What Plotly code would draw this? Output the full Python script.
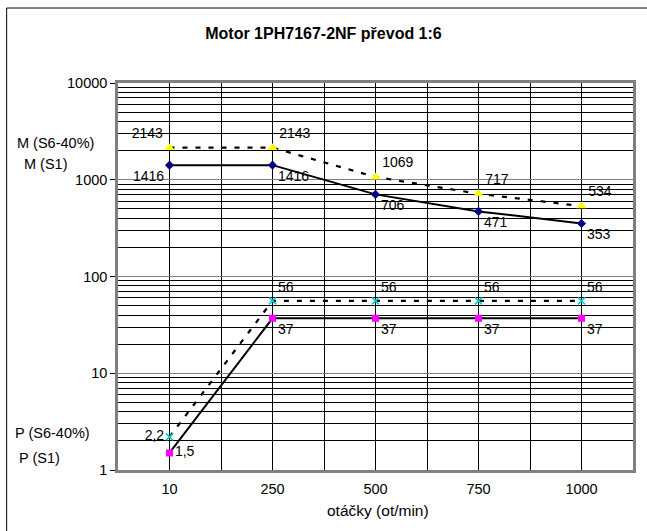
import plotly.graph_objects as go

categories = ["10", "250", "500", "750", "1000"]
m_s1 = [1416, 1416, 706, 471, 353]
m_s6 = [2143, 2143, 1069, 717, 534]
p_s1 = [1.5, 37, 37, 37, 37]
p_s6 = [2.2, 56, 56, 56, 56]
m_s1_text = ["1416", "1416", "706", "471", "353"]
m_s6_text = ["2143", "2143", "1069", "717", "534"]
p_s1_text = ["1,5", "37", "37", "37", "37"]
p_s6_text = ["2,2", "56", "56", "56", "56"]
y_ticks = [1, 10, 100, 1000, 10000]

x = list(range(len(categories)))
FONT = "Liberation Sans, Arial, sans-serif"
FS = 14
lab_font = dict(family=FONT, size=FS, color="black")

fig = go.Figure()

fig.add_trace(go.Scatter(
    x=x, y=m_s6, mode="lines+markers+text", text=m_s6_text,
    textposition=["top left", "top right", "top right", "top right", "top right"],
    textfont=lab_font,
    line=dict(color="black", width=2.2, dash="5px,8px"),
    marker=dict(symbol="triangle-up", size=9, color="#FFFF00"),
))
fig.add_trace(go.Scatter(
    x=x, y=m_s1, mode="lines+markers+text", text=m_s1_text,
    textposition=["bottom left", "bottom right", "bottom right", "bottom right", "bottom right"],
    textfont=lab_font,
    line=dict(color="black", width=2),
    marker=dict(symbol="diamond", size=7, color="#000080"),
))
fig.add_trace(go.Scatter(
    x=x, y=p_s6, mode="lines+markers+text", text=p_s6_text,
    textposition=["middle left", "top right", "top right", "top right", "top right"],
    textfont=lab_font,
    line=dict(color="black", width=2.2, dash="5px,8px"),
    marker=dict(symbol="x-thin", size=7, color="#00FFFF", line=dict(color="#00CCCC", width=1.5)),
))
fig.add_trace(go.Scatter(
    x=x, y=p_s1, mode="lines+markers+text", text=p_s1_text,
    textposition=["middle right", "bottom right", "bottom right", "bottom right", "bottom right"],
    textfont=lab_font,
    line=dict(color="black", width=2),
    marker=dict(symbol="square", size=7, color="#FF00FF"),
))

minor_y = [m * 10 ** d for d in range(4) for m in range(2, 10)]

fig.update_layout(
    width=647, height=531,
    margin=dict(l=118, r=11, t=83, b=61),
    paper_bgcolor="white", plot_bgcolor="white",
    showlegend=False,
    font=dict(family=FONT, size=FS, color="black"),
    title=dict(text="<b>Motor 1PH7167-2NF převod 1:6</b>", x=0.5, xanchor="center",
               y=1 - 33 / 531, yanchor="middle", font=dict(family=FONT, size=16)),
    xaxis=dict(
        range=[-0.5, 4.5], tickvals=x, ticktext=categories,
        showgrid=True, gridcolor="black", gridwidth=1,
        minor=dict(tickvals=[0.5, 1.5, 2.5, 3.5], showgrid=True, gridcolor="black", gridwidth=1, ticks=""),
        zeroline=False, ticks="", ticklabelstandoff=4,
        showline=True, linecolor="#808080", linewidth=2.5, mirror=True,
        tickfont=dict(family=FONT, size=14.5),
    ),
    yaxis=dict(
        type="log", range=[0, 4], tickvals=y_ticks, ticktext=[str(v) for v in y_ticks],
        showgrid=True, gridcolor="#808080", gridwidth=1,
        minor=dict(tickvals=minor_y, showgrid=True, gridcolor="black", gridwidth=1, ticks=""),
        ticks="outside", ticklen=5, tickcolor="black", tickwidth=1,
        zeroline=False,
        showline=True, linecolor="#808080", linewidth=2.5, mirror=True,
        tickfont=dict(family=FONT, size=14.5),
    ),
)

# outer chart border (black)
fig.add_shape(type="rect", xref="paper", yref="paper",
              x0=(6 - 118) / 518, x1=(660 - 118) / 518,
              y0=(470 - 545) / 387, y1=(470 - 8) / 387,
              line=dict(color="black", width=1), layer="above")

side_labels = [("M (S6-40%)", 55, 143), ("M (S1)", 46, 164), ("P (S6-40%)", 52, 433), ("P (S1)", 39, 458)]
for t, px, py in side_labels:
    fig.add_annotation(text=t, xref="paper", yref="paper",
                       x=(px - 118) / 518, y=(470 - py) / 387,
                       showarrow=False, xanchor="center", yanchor="middle",
                       font=dict(family=FONT, size=14.5))

fig.add_annotation(text="otáčky (ot/min)", xref="paper", yref="paper",
                   x=(380 - 118) / 518, y=(470 - 511) / 387,
                   showarrow=False, xanchor="center", yanchor="middle",
                   font=dict(family=FONT, size=15.5))

fig.write_html("out.html", config={"displayModeBar": False},
               post_script="document.body.style.margin='0';document.body.style.overflow='hidden';")
